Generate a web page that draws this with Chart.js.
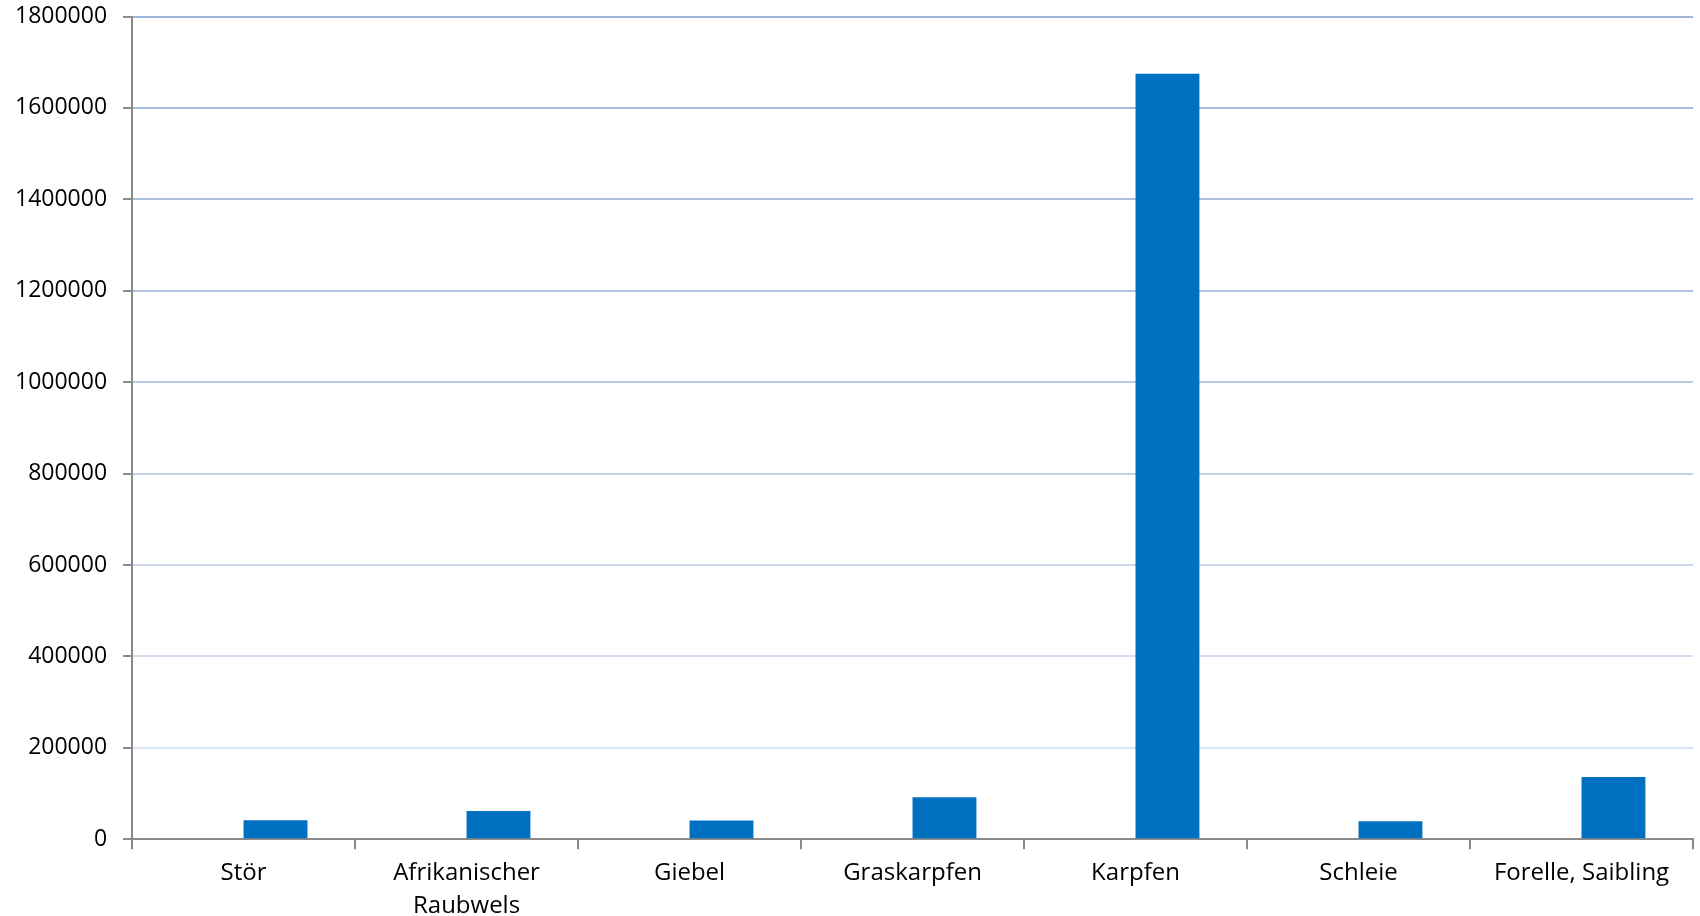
<!DOCTYPE html>
<html>
<head>
<meta charset="utf-8">
<script src="https://cdn.jsdelivr.net/npm/chart.js@4"></script>
<style>
  body { margin:0; background:#fff; }
  #wrap { width:1700px; height:916px; }
</style>
</head>
<body>
<div id="wrap"><canvas id="myChart" width="1700" height="916"></canvas></div>
<script>
// categories and values
var fish = ["Stör", ["Afrikanischer", "Raubwels"], "Giebel", "Graskarpfen", "Karpfen", "Schleie", "Forelle, Saibling"];
var emptySeries = [null, null, null, null, null, null, null];
var amounts = [41500, 61500, 41000, 92000, 1675000, 39500, 136000];
var yTicks = [0, 200000, 400000, 600000, 800000, 1000000, 1200000, 1400000, 1600000, 1800000];

// gridlines fade from blue at the top to pale at the bottom
var gridColors = ["#8a8a8a", "#dbe4f2", "#d3ddef", "#cbd7ec", "#c3d1e9", "#bbcbe7", "#b3c5e4", "#abbfe2", "#a5bae0", "#9fb5de"];

var ctx = document.getElementById("myChart");
var myChart = new Chart(ctx, {
  type: 'bar',
  data: {
    labels: fish,
    datasets: [
      {
        label: '',
        data: emptySeries,
        backgroundColor: "#0070c0"
      },
      {
        label: 'Menge',
        data: amounts,
        backgroundColor: "#0070c0"
      }
    ]
  },
  options: {
    responsive: false,
    animation: false,
    layout: { padding: { top: 0, right: 7, left: 10, bottom: -14 } },
    plugins: { legend: { display: false }, tooltip: { enabled: false } },
    datasets: { bar: { categoryPercentage: 0.573, barPercentage: 1.0 } },
    scales: {
      x: {
        grid: {
          offset: true,
          drawOnChartArea: false,
          drawTicks: true,
          tickLength: 10,
          color: "#8a8a8a",
          lineWidth: 2
        },
        border: { color: "#8a8a8a", width: 2 },
        ticks: {
          color: "#000",
          font: { family: "Open Sans", size: 24, lineHeight: 1.35 },
          maxRotation: 0,
          autoSkip: false,
          padding: 8
        }
      },
      y: {
        min: 0,
        max: 1800000,
        afterBuildTicks: function(axis) {
          axis.ticks = yTicks.map(function(v) { return { value: v }; });
        },
        grid: {
          color: function(c) { return gridColors[c.index] || "#dbe4f2"; },
          tickColor: "#8a8a8a",
          // long tick for label spacing, only the last 9px next to the axis are drawn
          tickLength: 20,
          tickBorderDash: [0, 11, 9, 0],
          lineWidth: 2
        },
        border: { color: "#8a8a8a", width: 2 },
        ticks: {
          color: "#000",
          font: { family: "Open Sans", size: 23, lineHeight: 1.0 },
          padding: 5,
          callback: function(v) { return String(v); }
        }
      }
    }
  }
});
</script>
</body>
</html>
